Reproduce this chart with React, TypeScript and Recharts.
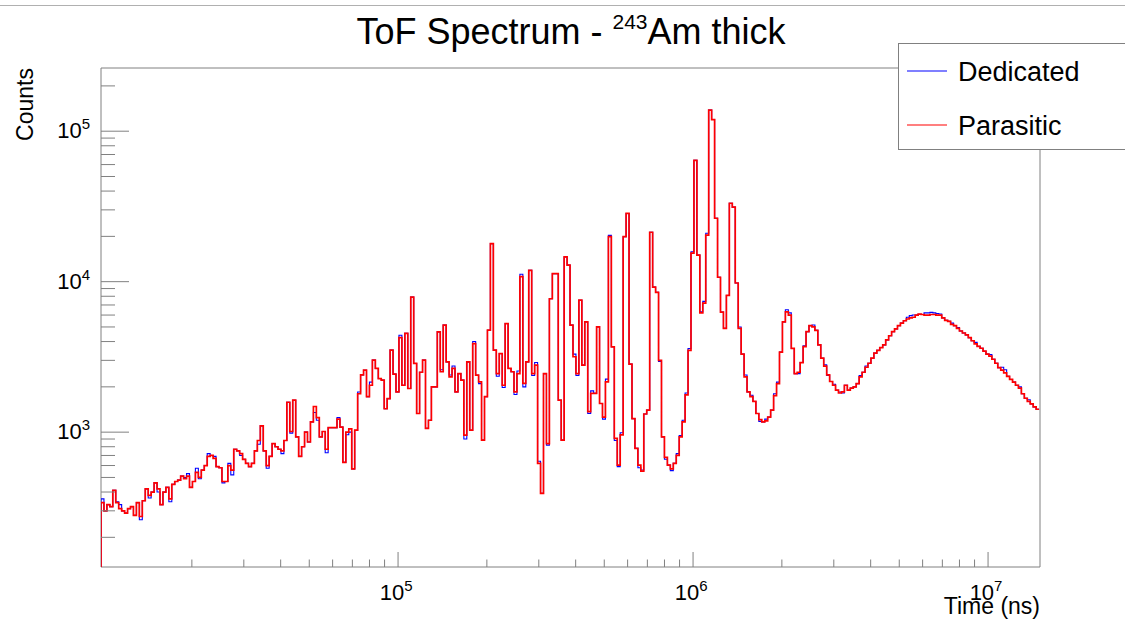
import { LineChart, Line, XAxis, YAxis, Legend, ReferenceArea } from "recharts";

// histogram binning: 100 log bins per decade, first edge at the left frame
const firstEdgeLog = 3.993;
const binsPerDecade = 100;

const xMin = 9840;
const xMax = 1.5e7;
const yMin = 127;
const yMax = 2.63e5;

const xTicks = [
  20000, 30000, 40000, 50000, 60000, 70000, 80000, 90000, 100000,
  200000, 300000, 400000, 500000, 600000, 700000, 800000, 900000, 1000000,
  2000000, 3000000, 4000000, 5000000, 6000000, 7000000, 8000000, 9000000, 10000000,
];
const yTicks = [
  200, 300, 400, 500, 600, 700, 800, 900, 1000,
  2000, 3000, 4000, 5000, 6000, 7000, 8000, 9000, 10000,
  20000, 30000, 40000, 50000, 60000, 70000, 80000, 90000, 100000, 200000,
];

// counts per bin, Parasitic run
const parasitic = [
  340, 300, 330, 320, 410, 340, 310, 300, 290, 310,
  320, 280, 340, 275, 350, 420, 380, 400, 460, 420,
  330, 400, 430, 360, 450, 470, 480, 510, 490, 510,
  430, 470, 540, 500, 560, 600, 690, 700, 670, 590,
  580, 470, 470, 600, 560, 770, 750, 720, 660, 620,
  590, 620, 750, 880, 1100, 750, 600, 690, 840, 800,
  770, 750, 880, 1580, 1010, 1630, 930, 690, 800, 1000,
  860, 1170, 1480, 1250, 930, 1010, 770, 1070, 1070, 1070,
  1220, 1080, 630, 1000, 1050, 570, 1030, 1800, 2400, 2580,
  1720, 2050, 3010, 2650, 2270, 2220, 1430, 1670, 3510, 2430,
  1850, 4250, 2050, 4530, 1950, 7900, 2860, 1330, 2500, 3010,
  1060, 1200, 2000, 2000, 4640, 2520, 5140, 2930, 2330, 2650,
  1850, 2450, 2220, 955, 2930, 1030, 3880, 2390, 2160, 885,
  1720, 4760, 17900, 3510, 2450, 3330, 2050, 5270, 2650, 2520,
  1850, 2450, 10800, 2110, 2930, 11900, 2450, 2790, 620, 392,
  2450, 840, 7700, 11300, 11300, 1630, 885, 14600, 12900, 5140,
  3170, 2450, 7530, 2790, 5400, 1370, 1810, 1810, 5010, 1550,
  1260, 2160, 19900, 3690, 910, 604, 960, 19900, 28400, 2830,
  1230, 780, 604, 550, 1320, 1400, 21300, 9200, 8500, 3000,
  930, 680, 604, 570, 620, 700, 930, 1170, 1770, 3500,
  15500, 64000, 15000, 6200, 7200, 20400, 138000, 119500, 26400, 10700,
  6280, 4900, 8100, 33200, 31300, 9800, 4900, 3300, 2330, 1850,
  1720, 1600, 1330, 1210, 1170, 1190, 1260, 1400, 1750, 2100,
  3400, 5400, 6300, 6000, 3600, 2450, 2500, 2900, 3700, 4650,
  5100, 5000, 4750, 3800, 3100, 2750, 2400, 2170, 2050, 1900,
  1820, 1850, 2050, 1900, 1960, 2000, 2100, 2330, 2500, 2700,
  2870, 3100, 3350, 3500, 3650, 3800, 4100, 4370, 4650, 4850,
  5100, 5300, 5500, 5650, 5750, 5800, 6000, 6080, 6050, 6000,
  6000, 6050, 6050, 6000, 6000, 5750, 5530, 5450, 5200, 5100,
  4900, 4700, 4560, 4430, 4250, 4050, 3860, 3720, 3610, 3450,
  3300, 3200, 3050, 2870, 2680, 2580, 2480, 2350, 2240, 2150,
  2050, 1960, 1800, 1680, 1600, 1540, 1470, 1420,
];

// bins where the Dedicated run differs visibly (blue showing under red)
const dedicatedDiffs: [number, number][] = [
  [0, 360], [5, 345], [6, 330], [13, 262], [16, 365], [19, 400], [23, 345],
  [28, 500], [29, 530], [32, 575], [33, 490], [36, 720], [38, 690], [41, 460],
  [43, 620], [44, 520], [47, 700], [53, 830], [56, 575], [61, 720], [64, 985],
  [72, 1350], [73, 1200], [76, 730], [80, 1250], [83, 960], [84, 1000], [87, 1850],
  [91, 2150], [101, 4400], [115, 2600], [118, 2400], [119, 2750], [123, 900],
  [126, 4000], [128, 2100], [134, 2350], [136, 1980], [140, 1780], [141, 2550],
  [142, 11200], [143, 2000], [146, 2380], [147, 2900], [148, 640], [151, 820],
  [160, 3300], [161, 2380], [165, 1330], [166, 1880], [170, 1220], [171, 2250],
  [172, 20300], [174, 880], [175, 590], [176, 990], [182, 580], [183, 560],
  [189, 2950], [191, 660], [193, 555], [195, 720], [196, 950], [197, 1200],
  [198, 1820], [199, 3600], [200, 15800], [203, 6300], [204, 7400], [205, 21000],
  [216, 5000], [218, 2400], [220, 1760], [223, 1180], [225, 1220], [228, 1800],
  [229, 2150], [232, 6500], [233, 6200], [236, 2450], [238, 3750], [241, 5150],
  [245, 2800], [246, 2380], [248, 2080], [250, 1850], [251, 1820], [257, 2380],
  [259, 2750], [273, 5800], [274, 5950], [275, 6000], [279, 6200], [280, 6200],
  [281, 6250], [282, 6200], [283, 6150], [284, 6100], [288, 5300], [290, 4950],
  [296, 3950], [301, 3280], [305, 2700], [306, 2600], [311, 2000], [314, 1640],
];

const dedicated = parasitic.slice();
dedicatedDiffs.forEach(([i, v]) => {
  dedicated[i] = v;
});

const binEdge = (i: number) => Math.pow(10, firstEdgeLog + i / binsPerDecade);

const nBins = parasitic.length;
const rows: { t: number; dedicated: number; parasitic: number }[] = [];
// ROOT draws the outline up from the frame bottom at the first edge
rows.push({ t: binEdge(0), dedicated: yMin, parasitic: yMin });
for (let i = 0; i < nBins; i++) {
  rows.push({ t: binEdge(i), dedicated: dedicated[i], parasitic: parasitic[i] });
}
rows.push({ t: binEdge(nBins), dedicated: dedicated[nBins - 1], parasitic: parasitic[nBins - 1] });

const font = "'Liberation Sans', Arial, Helvetica, sans-serif";
const axisGray = "#808080";

const isDecade = (v: number) => {
  const e = Math.log10(v);
  return Math.abs(e - Math.round(e)) < 1e-6;
};

const renderXTick = (props: any) => {
  const { x, y, payload } = props;
  const major = isDecade(payload.value);
  const exp = Math.round(Math.log10(payload.value));
  return (
    <g>
      <line x1={x} x2={x} y1={y} y2={y - (major ? 15 : 7.5)} stroke={axisGray} />
      {major && (
        <text x={x - 2} y={y + 33} textAnchor="middle" fontSize={22} fontFamily={font} fill="#000">
          10
          <tspan dy={-9} fontSize={15}>
            {exp}
          </tspan>
        </text>
      )}
    </g>
  );
};

const renderYTick = (props: any) => {
  const { x, y, payload } = props;
  const major = isDecade(payload.value);
  const exp = Math.round(Math.log10(payload.value));
  return (
    <g>
      <line x1={x} x2={x + (major ? 28 : 14)} y1={y} y2={y} stroke={axisGray} />
      {major && (
        <text x={x - 11} y={y + 7} textAnchor="end" fontSize={22} fontFamily={font} fill="#000">
          10
          <tspan dy={-9} fontSize={15}>
            {exp}
          </tspan>
        </text>
      )}
    </g>
  );
};

const renderLegend = (props: any) => {
  const payload = props.payload || [];
  return (
    <svg width={227} height={108} style={{ display: "block" }}>
      <rect x={0.5} y={0.5} width={260} height={106} fill="#fff" stroke={axisGray} />
      {payload.map((entry: any, i: number) => (
        <g key={entry.value}>
          <line x1={9} x2={49} y1={28 + i * 54} y2={28 + i * 54} stroke={entry.color} strokeWidth={1.2} />
          <text x={60} y={38 + i * 54} fontSize={27} fontFamily={font} fill="#000">
            {entry.value}
          </text>
        </g>
      ))}
    </svg>
  );
};

export default function App() {
  return (
    <div
      style={{
        position: "absolute",
        left: 0,
        top: 0,
        width: 1125,
        height: 621,
        overflow: "hidden",
        background: "#fff",
        fontFamily: font,
      }}
    >
      <LineChart width={1125} height={621} data={rows} margin={{ top: 68, right: 85, bottom: 0, left: 0 }}>
        <XAxis
          dataKey="t"
          type="number"
          scale="log"
          domain={[xMin, xMax]}
          allowDataOverflow
          ticks={xTicks}
          interval={0}
          tick={renderXTick}
          tickLine={false}
          axisLine={false}
          tickSize={0}
          tickMargin={0}
          height={54}
        />
        <YAxis
          type="number"
          scale="log"
          domain={[yMin, yMax]}
          allowDataOverflow
          ticks={yTicks}
          interval={0}
          tick={renderYTick}
          tickLine={false}
          axisLine={false}
          tickSize={0}
          tickMargin={0}
          width={101}
        />
        <ReferenceArea x1={xMin} x2={xMax} y1={yMin} y2={yMax} fill="none" stroke={axisGray} strokeWidth={1} />
        <Line
          type="stepAfter"
          dataKey="dedicated"
          name="Dedicated"
          stroke="#0000ff"
          strokeWidth={1.1}
          dot={false}
          activeDot={false}
          isAnimationActive={false}
        />
        <Line
          type="stepAfter"
          dataKey="parasitic"
          name="Parasitic"
          stroke="#ff0000"
          strokeWidth={1.7}
          dot={false}
          activeDot={false}
          isAnimationActive={false}
        />
        <Legend
          layout="horizontal"
          verticalAlign="middle"
          align="center"
          content={renderLegend}
          wrapperStyle={{ position: "absolute", left: 898, top: 43, width: 227, height: 108 }}
        />
      </LineChart>
      <svg
        width={1125}
        height={621}
        style={{ position: "absolute", left: 0, top: 0, pointerEvents: "none" }}
      >
        <line x1={0} x2={1125} y1={5.5} y2={5.5} stroke="#b0b0b0" />
        <text x={571} y={44} textAnchor="middle" fontSize={36} fontFamily={font} fill="#000">
          ToF Spectrum -{" "}
          <tspan dy={-15} fontSize={21}>
            243
          </tspan>
          <tspan dy={15}>Am thick</tspan>
        </text>
        <text
          transform="translate(33,68) rotate(-90)"
          textAnchor="end"
          fontSize={23}
          fontFamily={font}
          fill="#000"
        >
          Counts
        </text>
        <text x={1040} y={614} textAnchor="end" fontSize={23} fontFamily={font} fill="#000">
          Time (ns)
        </text>
      </svg>
    </div>
  );
}
